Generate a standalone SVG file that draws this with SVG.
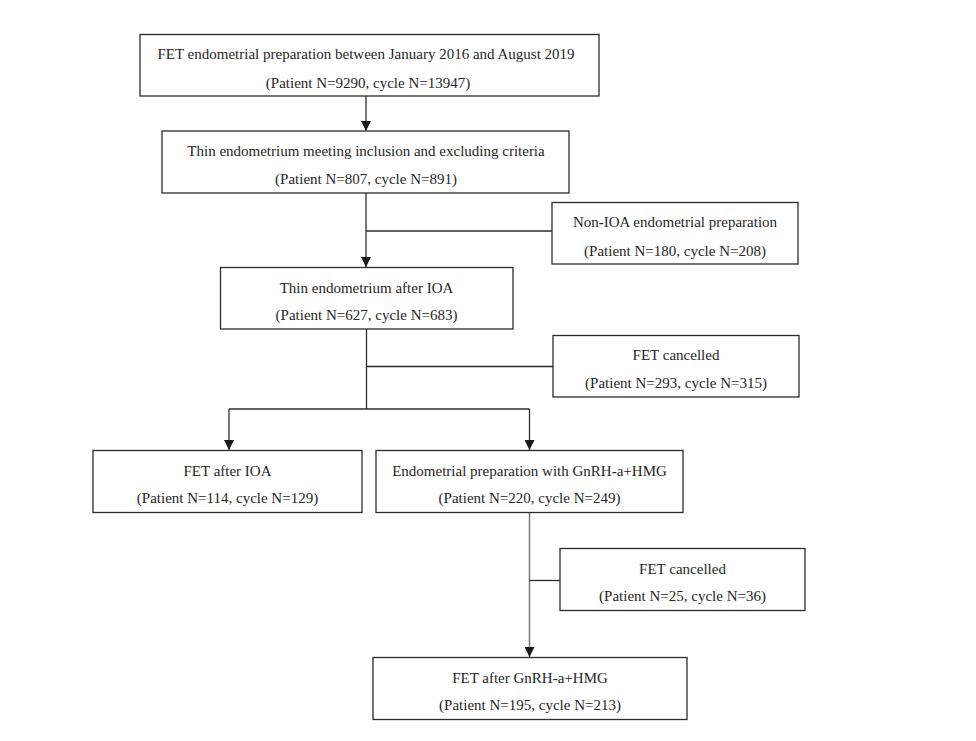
<svg xmlns="http://www.w3.org/2000/svg" width="976" height="741" viewBox="0 0 976 741">
<style>
.box{fill:#fff;stroke:#2b2b2b;stroke-width:1.3}
.t{font-family:"Liberation Serif","Times New Roman",serif;font-size:15px;fill:#262626;text-anchor:middle}
.ln{fill:none;stroke:#2b2b2b;stroke-width:1.3}
.g{stroke:#7a7a7a;stroke-width:1.5}
.b{font-weight:bold}
</style>
<defs>
<marker id="ah" viewBox="0 0 10 10" refX="10" refY="5" markerWidth="10" markerHeight="10" markerUnits="userSpaceOnUse" orient="auto">
<path d="M0,0 L10,5 L0,10 Z" fill="#1a1a1a"/>
</marker>
</defs>
<rect width="976" height="741" fill="#fff"/>
<g id="connectors">
<line class="ln" x1="366" y1="96" x2="366" y2="131" marker-end="url(#ah)"/>
<line class="ln" x1="366" y1="193" x2="366" y2="267" marker-end="url(#ah)"/>
<line class="ln" x1="366" y1="231" x2="552" y2="231"/>
<line class="ln" x1="366.5" y1="329" x2="366.5" y2="409"/>
<line class="ln" x1="366.5" y1="366.5" x2="553" y2="366.5"/>
<line class="ln" x1="229" y1="409" x2="529.5" y2="409"/>
<line class="ln" x1="229" y1="409" x2="229" y2="450" marker-end="url(#ah)"/>
<line class="ln" x1="529.5" y1="409" x2="529.5" y2="450" marker-end="url(#ah)"/>
<line class="ln g" x1="529.5" y1="512.5" x2="529.5" y2="657" marker-end="url(#ah)"/>
<line class="ln" x1="529.5" y1="580.5" x2="560" y2="580.5"/>
</g>
<g id="n1">
<rect class="box" x="140" y="34.5" width="459" height="61.5"/>
<text class="t" x="366" y="59">FET endometrial preparation between January 2016 and August 2019</text>
<text class="t" x="368" y="87.5">(Patient N=9290, cycle N=13947)</text>
</g>
<g id="n2">
<rect class="box" x="162" y="131" width="407" height="62"/>
<text class="t" x="366" y="156">Thin endometrium meeting inclusion and excluding criteria</text>
<text class="t" x="366" y="183.5">(Patient N=807, cycle N=891)</text>
</g>
<g id="n3">
<rect class="box" x="552" y="202.5" width="246" height="61.5"/>
<text class="t" x="675" y="227">Non<tspan class="b">-</tspan>IOA endometrial preparation</text>
<text class="t" x="675" y="255.5">(Patient N=180, cycle N=208)</text>
</g>
<g id="n4">
<rect class="box" x="220.5" y="267.5" width="292.5" height="61.5"/>
<text class="t" x="366.5" y="292.5">Thin endometrium after IOA</text>
<text class="t" x="366.5" y="320">(Patient N=627, cycle N=683)</text>
</g>
<g id="n5">
<rect class="box" x="553" y="335.5" width="246" height="61.5"/>
<text class="t" x="676" y="360">FET cancelled</text>
<text class="t" x="676" y="388">(Patient N=293, cycle N=315)</text>
</g>
<g id="n6">
<rect class="box" x="93" y="450.5" width="269" height="62"/>
<text class="t" x="227.5" y="475.5">FET after IOA</text>
<text class="t" x="227.5" y="503">(Patient N=114, cycle N=129)</text>
</g>
<g id="n7">
<rect class="box" x="376" y="450.5" width="307" height="62"/>
<text class="t" x="529.5" y="475.5">Endometrial preparation with GnRH<tspan class="b">-</tspan>a+HMG</text>
<text class="t" x="529.5" y="503">(Patient N=220, cycle N=249)</text>
</g>
<g id="n8">
<rect class="box" x="560" y="548.5" width="245" height="62"/>
<text class="t" x="682.5" y="573.5">FET cancelled</text>
<text class="t" x="682.5" y="601">(Patient N=25, cycle N=36)</text>
</g>
<g id="n9">
<rect class="box" x="373" y="657.5" width="314" height="62"/>
<text class="t" x="530" y="682.5">FET after GnRH<tspan class="b">-</tspan>a+HMG</text>
<text class="t" x="530" y="710">(Patient N=195, cycle N=213)</text>
</g>
</svg>
